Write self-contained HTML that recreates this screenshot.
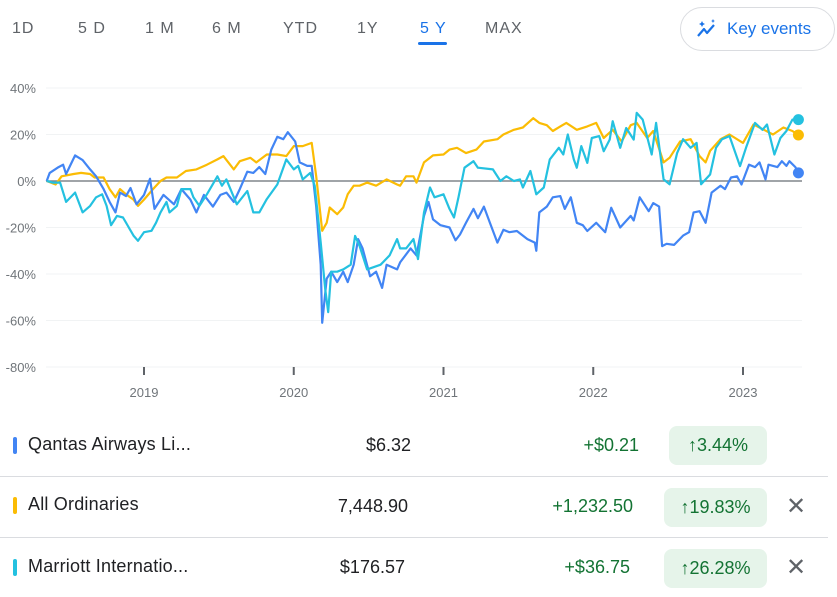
<!DOCTYPE html>
<html><head><meta charset="utf-8"><style>
body{margin:0;width:837px;height:589px;background:#fff;font-family:"Liberation Sans",sans-serif;overflow:hidden;position:relative}
.tab{position:absolute;top:20px;font-size:16px;color:#5f6368;letter-spacing:1px}
.row{position:absolute;left:0;width:837px;height:60px}
.sw{position:absolute;left:13px;width:4px;height:17px;border-radius:2px}
.nm{position:absolute;left:28px;font-size:18px;color:#202124;letter-spacing:0.2px}
.pr{position:absolute;font-size:18px;color:#202124;text-align:right}
.ch{position:absolute;font-size:18px;color:#137333;text-align:right}
.pill{position:absolute;background:#e6f4ea;border-radius:8px;color:#137333;font-size:18px;text-align:center;height:39px;line-height:39px}
.x{position:absolute;left:786px;font-size:24px;color:#5f6368}
.div{position:absolute;left:0;width:828px;height:1px;background:#dadce0}
</style></head><body>
<div class="tab" style="left:12px">1D</div>
<div class="tab" style="left:78px">5 D</div>
<div class="tab" style="left:145px">1 M</div>
<div class="tab" style="left:212px">6 M</div>
<div class="tab" style="left:283px">YTD</div>
<div class="tab" style="left:357px">1Y</div>
<div class="tab" style="left:420px;color:#1a73e8">5 Y</div>
<div style="position:absolute;left:418px;top:42px;width:29px;height:3px;background:#1a73e8;border-radius:2px"></div>
<div class="tab" style="left:485px">MAX</div>
<div style="position:absolute;left:680px;top:7px;width:153px;height:42px;border:1px solid #dadce0;border-radius:22px;color:#1a73e8;font-size:17px;line-height:42px"><svg width="22" height="20" style="position:absolute;left:15px;top:11px"><path d="M2,17 L8,10 L11,14 L18,6" fill="none" stroke="#1a73e8" stroke-width="2.2" stroke-linejoin="round"/><path d="M6,2 L7,4 L9,5 L7,6 L6,8 L5,6 L3,5 L5,4Z M17,0 L17.7,1.5 L19,2 L17.7,2.5 L17,4 L16.3,2.5 L15,2 L16.3,1.5Z" fill="#1a73e8"/></svg><span style="position:absolute;left:46px">Key events</span></div>

<svg id="chart" width="837" height="410" style="position:absolute;left:0;top:0"></svg>

<div class="row" style="top:415px">
<div class="sw" style="top:22px;background:#4285f4"></div>
<div class="nm" style="top:19px">Qantas Airways Li...</div>
<div class="pr" style="right:426px;top:20px">$6.32</div>
<div class="ch" style="right:198px;top:20px">+$0.21</div>
<div class="pill" style="left:669px;top:11px;width:98px">↑3.44%</div>
</div>
<div class="div" style="top:476px"></div>
<div class="row" style="top:476px">
<div class="sw" style="top:21px;background:#fbbc04"></div>
<div class="nm" style="top:18px">All Ordinaries</div>
<div class="pr" style="right:429px;top:20px">7,448.90</div>
<div class="ch" style="right:204px;top:20px">+1,232.50</div>
<div class="pill" style="left:664px;top:12px;width:103px">↑19.83%</div>
<div class="x" style="top:16px">✕</div>
</div>
<div class="div" style="top:537px"></div>
<div class="row" style="top:537px">
<div class="sw" style="top:22px;background:#24c1e0"></div>
<div class="nm" style="top:19px">Marriott Internatio...</div>
<div class="pr" style="right:432px;top:20px">$176.57</div>
<div class="ch" style="right:207px;top:20px">+$36.75</div>
<div class="pill" style="left:664px;top:12px;width:103px">↑26.28%</div>
<div class="x" style="top:16px">✕</div>
</div>

<script>
const yTicks=[40,20,0,-20,-40,-60,-80];
const xTickYears=[2019,2020,2021,2022,2023];
const qantasDates=[2018.35,2018.37,2018.43,2018.46,2018.48,2018.54,2018.59,2018.64,2018.68,2018.73,2018.77,2018.81,2018.84,2018.88,2018.91,2018.95,2019.00,2019.04,2019.07,2019.13,2019.20,2019.25,2019.31,2019.35,2019.40,2019.46,2019.51,2019.55,2019.60,2019.64,2019.69,2019.73,2019.77,2019.81,2019.85,2019.89,2019.93,2019.96,2020.01,2020.04,2020.09,2020.12,2020.15,2020.18,2020.19,2020.22,2020.25,2020.29,2020.33,2020.36,2020.40,2020.43,2020.46,2020.51,2020.55,2020.59,2020.62,2020.69,2020.71,2020.78,2020.82,2020.87,2020.90,2020.93,2020.98,2021.04,2021.08,2021.11,2021.15,2021.20,2021.23,2021.27,2021.31,2021.36,2021.40,2021.44,2021.49,2021.56,2021.61,2021.62,2021.64,2021.69,2021.73,2021.78,2021.81,2021.85,2021.89,2021.93,2021.96,2022.02,2022.08,2022.12,2022.18,2022.25,2022.27,2022.31,2022.37,2022.40,2022.44,2022.46,2022.49,2022.54,2022.60,2022.64,2022.67,2022.71,2022.75,2022.79,2022.85,2022.88,2022.92,2022.96,2022.99,2023.04,2023.08,2023.11,2023.15,2023.17,2023.23,2023.26,2023.29,2023.31,2023.35,2023.37];
const qantasValues=[0,3.5,6,7,3,11,9,5,2,-3.5,-9,-13.5,-5,-6.5,-3,-10,-6,1,-12,-6,-10,-3.5,-8,-13.5,-6,-11,-6,-5,-9,-3.5,4,3.5,6,3,13.5,19,18,21,17,8,6.5,6.5,-11,-36,-61,-42,-39,-43.5,-39,-43.5,-36,-25,-29,-41,-39,-46,-36,-38,-35,-29,-32,-15,-9,-16.5,-19,-20,-25.5,-23,-18,-12,-16,-11,-18,-26.5,-21,-22,-21.5,-25,-26.5,-30,-13.5,-11,-7,-6.5,-12,-7,-18,-19,-21.5,-18,-22,-11.5,-20,-15,-17,-7,-13,-9.5,-11,-28,-27,-27.5,-23.5,-22,-13.5,-13,-18,-5,-2,-3.5,1.5,2,-1.5,7,6,8,0.7,7,6,8.5,6.5,8.5,6,3.5];
const allOrdsDates=[2018.35,2018.41,2018.45,2018.53,2018.58,2018.64,2018.67,2018.73,2018.77,2018.81,2018.84,2018.88,2018.93,2018.96,2019.00,2019.06,2019.11,2019.15,2019.22,2019.28,2019.35,2019.42,2019.49,2019.53,2019.60,2019.64,2019.71,2019.75,2019.82,2019.89,2019.95,2020.00,2020.06,2020.12,2020.15,2020.19,2020.22,2020.24,2020.29,2020.33,2020.36,2020.40,2020.44,2020.49,2020.55,2020.62,2020.69,2020.71,2020.75,2020.80,2020.82,2020.87,2020.93,2021.00,2021.04,2021.09,2021.15,2021.22,2021.27,2021.36,2021.40,2021.47,2021.53,2021.60,2021.64,2021.69,2021.73,2021.78,2021.82,2021.89,2021.96,2022.02,2022.07,2022.13,2022.19,2022.25,2022.29,2022.36,2022.40,2022.47,2022.51,2022.58,2022.65,2022.71,2022.75,2022.78,2022.85,2022.91,2023.00,2023.07,2023.14,2023.20,2023.27,2023.33,2023.37];
const allOrdsValues=[0,-1.5,2,3,3.5,3,1.5,1.5,-3.5,-7,-3.5,-5.7,-8,-10.7,-8,-3.5,0,1.5,1.5,4.3,5,7,9.3,10.7,5,8.5,10,8,11.4,11.4,10.7,15,15,16.4,2,-21.4,-18,-11.4,-14.3,-11.4,-5.7,-2,-2,-0.7,-2,0.7,-1.5,-2,2,2,-0.7,8,11,11.4,13.5,14.3,12,13.5,17,18,20,22,23,27,25,24,21.5,23.5,25,22,23.5,25,18.5,22,17,24,25,18.5,21.5,8,10,17,18,10.7,8,13,18,20,16.4,24.3,22,20,23,21.5,19.8];
const marriottDates=[2018.35,2018.39,2018.44,2018.48,2018.54,2018.59,2018.64,2018.68,2018.72,2018.75,2018.78,2018.82,2018.86,2018.93,2018.96,2019.00,2019.05,2019.08,2019.11,2019.15,2019.17,2019.22,2019.25,2019.31,2019.33,2019.37,2019.42,2019.49,2019.52,2019.55,2019.62,2019.69,2019.73,2019.77,2019.82,2019.89,2019.95,2020.00,2020.03,2020.06,2020.11,2020.14,2020.18,2020.21,2020.23,2020.25,2020.29,2020.33,2020.38,2020.41,2020.44,2020.49,2020.58,2020.64,2020.69,2020.71,2020.75,2020.80,2020.83,2020.87,2020.91,2020.94,2021.00,2021.04,2021.07,2021.10,2021.14,2021.20,2021.23,2021.33,2021.38,2021.42,2021.47,2021.51,2021.53,2021.58,2021.62,2021.67,2021.71,2021.77,2021.80,2021.83,2021.87,2021.89,2021.92,2021.96,2021.99,2022.04,2022.07,2022.11,2022.13,2022.18,2022.22,2022.27,2022.29,2022.33,2022.39,2022.42,2022.47,2022.51,2022.56,2022.60,2022.65,2022.69,2022.72,2022.78,2022.82,2022.86,2022.91,2022.98,2023.02,2023.08,2023.13,2023.16,2023.21,2023.25,2023.29,2023.33,2023.37];
const marriottValues=[0,-0.7,-0.7,-9,-5,-13.5,-10.7,-7,-5.7,-10.7,-19,-15,-15.7,-23.5,-25.7,-22,-21.4,-18,-13.5,-9,-13.5,-10.7,-3.5,-3.5,-7,-10.7,-5.7,2,-2,0.7,-10,-4.3,-13.5,-13.5,-7.8,-1.5,9.3,5,6.5,0.7,3.5,-2,-26.4,-46.4,-56.4,-39,-39,-38,-36,-23.6,-28,-38,-36,-32,-25,-29,-29,-25,-33.6,-13.5,-2.8,-7,-5.7,-12,-15.7,-7,5.7,8.5,5.7,5,0,2,0,0.7,-2.8,4.3,-5.7,-2.8,9.3,14.3,11.4,20,9.3,5.7,15,7.8,18.5,19.3,12.8,17.8,25.7,14.3,22.8,17.8,29.3,26.4,11.4,25,0.7,-1.4,12,18,14.3,16.4,-1.4,2.8,14.3,18,19.3,6.4,14.3,25,22,24.3,11.4,18.5,21.5,26.4,26.4];

const svg=document.getElementById('chart');
const NS='http://www.w3.org/2000/svg';
const X0=46,X1=802;
function xS(d){return 144+(d-2019)*149.75;}
function yS(v){return 181-v*2.325;}
function mk(tag,attrs){const e=document.createElementNS(NS,tag);for(const k in attrs)e.setAttribute(k,attrs[k]);svg.appendChild(e);return e;}
yTicks.forEach(t=>{
  if(t!==0){const g=mk('line',{x1:X0,x2:X1,y1:yS(t),y2:yS(t),stroke:'#f1f3f4','stroke-width':1});
  
  }
  const l=mk('text',{x:36,y:yS(t)+5,'text-anchor':'end','font-size':13,fill:'#70757a','font-family':'Liberation Sans, sans-serif'});
  l.textContent=t+'%';
  
  
});
xTickYears.forEach(yr=>{
  const tk=mk('line',{x1:xS(yr),x2:xS(yr),y1:367,y2:375,stroke:'#5f6368','stroke-width':2});
  
  
  const l=mk('text',{x:xS(yr),y:397,'text-anchor':'middle','font-size':13,fill:'#70757a','font-family':'Liberation Sans, sans-serif'});
  l.textContent=yr;
  
  
});
const zl=mk('line',{x1:X0,x2:X1,y1:yS(0),y2:yS(0),stroke:'#80868b','stroke-width':1.5});


function series(dates,vals,color,name){
  const d=dates.map((t,i)=>(i?'L':'M')+xS(t).toFixed(1)+','+yS(vals[i]).toFixed(1)).join(' ');
  const p=mk('path',{d:d,fill:'none',stroke:color,'stroke-width':2.2,'stroke-linejoin':'round'});
  
  
  const n=dates.length-1;
  const c=mk('circle',{cx:xS(dates[n]),cy:yS(vals[n]),r:5.5,fill:color});
  
  
}
series(allOrdsDates,allOrdsValues,'#fbbc04','all-ordinaries');
series(qantasDates,qantasValues,'#4285f4','qantas');
series(marriottDates,marriottValues,'#24c1e0','marriott');
</script>
</body></html>
